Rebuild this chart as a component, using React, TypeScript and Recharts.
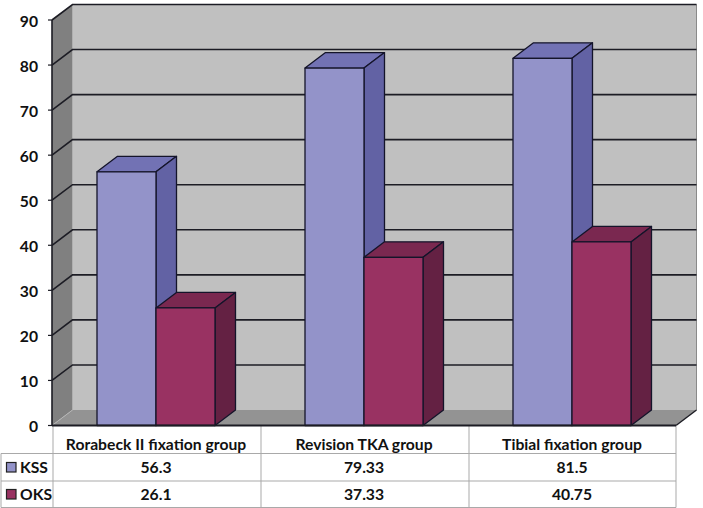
import React from 'react';
import { BarChart, Bar, XAxis, YAxis, CartesianGrid, Customized, usePlotArea } from 'recharts';

const categories = ['Rorabeck II fixation group', 'Revision TKA group', 'Tibial fixation group'];
const kssValues = [56.3, 79.33, 81.5];
const oksValues = [26.1, 37.33, 40.75];
const yTicks = [0, 10, 20, 30, 40, 50, 60, 70, 80, 90];
const data = categories.map((name, i) => ({ name, KSS: kssValues[i], OKS: oksValues[i] }));

const DX = 20.5;
const DY = -15.5;
const DARK = '#1c1c24';
const FONT = 'Lato, "Open Sans", sans-serif';
const TABLE_LINE = '#a9a9a9';
const KSS = { front: '#9393c9', top: '#7272b4', side: '#6262a4' };
const OKS = { front: '#993262', top: '#7a2850', side: '#642143' };

function Walls() {
  const p = usePlotArea();
  if (!p) return null;
  const { x, y, width: w, height: h } = p;
  const b = y + h;
  const r = x + w;
  return (
    <g>
      <rect x={x + DX} y={y + DY} width={w} height={h} fill="#c0c0c0" />
      <polygon points={`${x},${y} ${x + DX},${y + DY} ${x + DX},${b + DY} ${x},${b}`} fill="#808080" />
      <polygon points={`${x},${b} ${x + DX},${b + DY} ${r + DX},${b + DY} ${r},${b}`} fill="#939393" />
      <line x1={r + DX} x2={r + DX} y1={y + DY} y2={b + DY} stroke="#8a8a8a" strokeWidth={1} />
      <line x1={x} y1={b} x2={x + DX} y2={b + DY} stroke="#b5b5b5" strokeWidth={1} />
      <line x1={r} y1={b} x2={r + DX} y2={b + DY} stroke={DARK} strokeWidth={1.4} />
    </g>
  );
}

function GridLine(props: any) {
  const { x1, x2, y1, index } = props;
  const p = usePlotArea();
  const isFloor = p ? Math.abs(y1 - (p.y + p.height)) < 1 : false;
  return (
    <g>
      {index === 0 ? <Walls /> : null}
      {isFloor ? null : (
        <polyline
          points={`${x1},${y1} ${x1 + DX},${y1 + DY} ${x2 + DX},${y1 + DY}`}
          fill="none"
          stroke={DARK}
          strokeWidth={1.6}
        />
      )}
    </g>
  );
}

function Bar3D(props: any) {
  const { x, y, width: w, height: h, palette } = props;
  const b = y + h;
  const r = x + w;
  return (
    <g stroke="#14142a" strokeWidth={1.3} strokeLinejoin="round">
      <polygon points={`${x},${y} ${x + DX},${y + DY} ${r + DX},${y + DY} ${r},${y}`} fill={palette.top} />
      <polygon points={`${r},${y} ${r + DX},${y + DY} ${r + DX},${b + DY} ${r},${b}`} fill={palette.side} />
      <rect x={x} y={y} width={w} height={h} fill={palette.front} />
    </g>
  );
}

function TableTick(props: any) {
  const { x, y, payload, index } = props;
  const text = { fontFamily: FONT, fontWeight: 700, fill: '#111', textAnchor: 'middle' as const };
  return (
    <g>
      <text x={x} y={y + 16} fontSize={15.7} {...text}>{payload.value}</text>
      <text x={x} y={y + 39} fontSize={15.7} {...text}>{kssValues[index]}</text>
      <text x={x} y={y + 66} fontSize={15.7} {...text}>{oksValues[index]}</text>
    </g>
  );
}

function TableFrame() {
  const p = usePlotArea();
  if (!p) return null;
  const { x, y, width: w, height: h } = p;
  const b = y + h;
  const r = x + w;
  const col = w / categories.length;
  const rows = [b + 28, b + 55.5, b + 82];
  const legend = [
    { name: 'KSS', color: KSS.front, cy: b + 42 },
    { name: 'OKS', color: OKS.front, cy: b + 69 },
  ];
  return (
    <g>
      {rows.map((ry) => (
        <line key={ry} x1={1} x2={r} y1={ry} y2={ry} stroke={TABLE_LINE} strokeWidth={1} />
      ))}
      {categories.map((_, i) => (
        <line key={i} x1={x + 1 + col * i} x2={x + 1 + col * i} y1={b} y2={b + 82} stroke={TABLE_LINE} strokeWidth={1} />
      ))}
      <line x1={r} x2={r} y1={b} y2={b + 82} stroke={TABLE_LINE} strokeWidth={1} />
      <line x1={1} x2={1} y1={b + 28} y2={b + 82} stroke={TABLE_LINE} strokeWidth={1} />
      {legend.map((l) => (
        <g key={l.name}>
          <rect x={6.5} y={l.cy - 5} width={9.5} height={9.5} fill={l.color} stroke="#222" strokeWidth={1.2} />
          <text x={20} y={l.cy + 5} fontSize={15.7} fontFamily={FONT} fontWeight={700} fill="#111">{l.name}</text>
        </g>
      ))}
    </g>
  );
}

export default function App() {
  return (
    <div style={{ position: 'absolute', left: 0, top: 0, width: 703, height: 508, background: '#fff' }}>
      <BarChart
        width={703}
        height={508}
        data={data}
        margin={{ top: 20, right: 27, bottom: 0, left: 0 }}
        barCategoryGap={45}
        barGap={0}
      >
        <CartesianGrid vertical={false} horizontal={(p: any) => <GridLine key={p.key ?? p.y1} {...p} />} stroke={DARK} />
        <XAxis
          dataKey="name"
          height={82.5}
          axisLine={{ stroke: DARK, strokeWidth: 2 }}
          tickLine={false}
          tick={<TableTick />}
          interval={0}
        />
        <YAxis
          width={52}
          domain={[0, 90]}
          ticks={yTicks}
          interval={0}
          axisLine={{ stroke: DARK, strokeWidth: 1.6 }}
          tickLine={{ stroke: DARK, strokeWidth: 1.2 }}
          tickSize={4}
          tickMargin={10}
          dy={1}
          tick={{ fontFamily: FONT, fontWeight: 700, fontSize: 15.7, fill: '#111', dy: 1 }}
        />
        <Bar dataKey="KSS" isAnimationActive={false} shape={(p: any) => <Bar3D {...p} palette={KSS} />} />
        <Bar dataKey="OKS" isAnimationActive={false} shape={(p: any) => <Bar3D {...p} palette={OKS} />} />
        <Customized component={TableFrame} />
      </BarChart>
    </div>
  );
}
